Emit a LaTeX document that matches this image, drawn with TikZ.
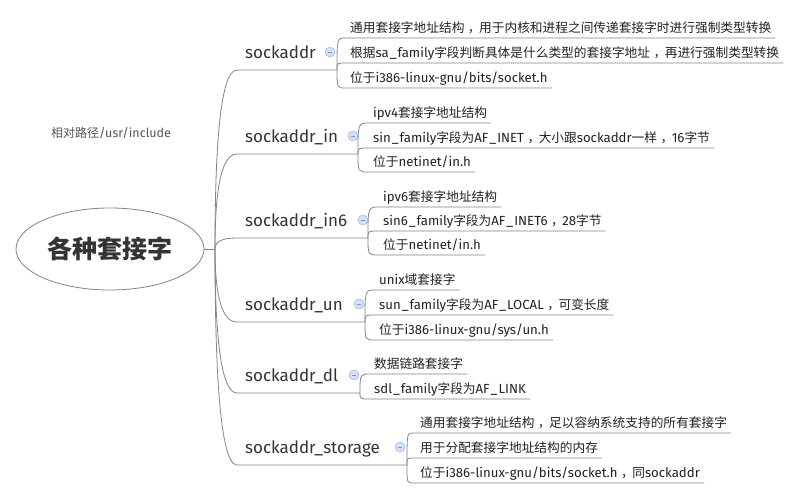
\documentclass[tikz,border=0pt]{standalone}
\usepackage{fontspec}
\setmainfont{Fira Sans}
\newfontfamily\cjk{Noto Sans CJK SC}[Scale=0.962]
\newcommand\zh[1]{{\cjk #1}}
\newcommand\cm{\kern3.5pt{\cjk ，}\kern-1.5pt}
\newcommand\us{\kern1pt\_\kern1pt}
\usetikzlibrary{shapes.geometric,calc}
\definecolor{linec}{HTML}{858585}
\definecolor{txtc}{HTML}{333333}
\definecolor{itemc}{HTML}{222222}
\definecolor{notec}{HTML}{555555}
\definecolor{iconfill}{HTML}{D3E0F7}
\definecolor{icondraw}{HTML}{A8BDE6}
\definecolor{iconbar}{HTML}{7F95C2}
\tikzset{
  conn/.style={draw=linec, line width=0.8pt},
  rootnode/.style={ellipse, draw=linec, line width=0.8pt, minimum width=188pt, minimum height=82pt, inner sep=0pt, text=txtc, font=\fontsize{26}{30}\selectfont\bfseries},
  branch/.style={font=\fontsize{17}{20}\selectfont, text=txtc, inner sep=0pt, anchor=base west},
  item/.style={font=\fontsize{13.2}{15}\selectfont, text=itemc, inner sep=0pt, anchor=base west},
  note/.style={font=\fontsize{12.5}{14}\selectfont, text=notec, inner sep=0pt},
  icon/.style={circle, draw=icondraw, fill=iconfill, line width=0.6pt, minimum size=10pt, inner sep=0pt,
    path picture={\draw[iconbar, line width=0.7pt] ([xshift=-2.3pt]path picture bounding box.center) -- ([xshift=2.3pt]path picture bounding box.center);}}
}
\begin{document}
\begin{tikzpicture}[x=1pt, y=-1pt]
\useasboundingbox[fill=white] (0,0) rectangle (807,499);

% root
\node[rootnode] (root) at (110,249) {\zh{各种套接字}};
\node[note] (note) at (111,133) {\zh{相对路径}/usr/include};
\coordinate (J) at (215,249);
\draw[conn] (root.east) -- (J);

% ---------- sockaddr
\node[branch] (b1) at (245,58) {sockaddr};
\node[icon] (i1) at (330,52) {};
\coordinate (b1s) at (237,70); \coordinate (b1e) at (337,70);
\draw[conn] (J) .. controls (215,159) and (219,70) .. (b1s) -- (b1e);
\node[item] (s11) at (350,32) {\zh{通用套接字地址结构}\cm\zh{用于内核和进程之间传递套接字时进行强制类型转换}};
\node[item] (s12) at (350,57) {\zh{根据}sa\us family\zh{字段判断具体是什么类型的套接字地址}\cm\zh{再进行强制类型转换}};
\node[item] (s13) at (350,82) {\zh{位于}i386-linux-gnu/bits/socket.h};
\draw[conn] (b1e) .. controls (337,38) .. (346,38) -- ($(s11.base east)+(4,6)$);
\draw[conn] (b1e) .. controls (337,63) .. (346,63) -- ($(s12.base east)+(4,6)$);
\draw[conn] (b1e) .. controls (337,88) .. (346,88) -- ($(s13.base east)+(4,6)$);

% ---------- sockaddr_in
\node[branch] (b2) at (245,142) {sockaddr\_in};
\node[icon] (i2) at (353,136) {};
\coordinate (b2s) at (237,154); \coordinate (b2e) at (358,154);
\draw[conn] (J) .. controls (215,201) and (219,154) .. (b2s) -- (b2e);
\node[item] (s21) at (373,117) {ipv4\zh{套接字地址结构}};
\node[item] (s22) at (373,142) {sin\us family\zh{字段为}AF\us INET\cm\zh{大小跟}sockaddr\zh{一样}\cm 16\zh{字节}};
\node[item] (s23) at (373,166) {\zh{位于}netinet/in.h};
\draw[conn] (b2e) .. controls (358,123) .. (369,123) -- ($(s21.base east)+(4,6)$);
\draw[conn] (b2e) .. controls (358,148) .. (369,148) -- ($(s22.base east)+(4,6)$);
\draw[conn] (b2e) .. controls (358,172) .. (369,172) -- ($(s23.base east)+(4,6)$);

% ---------- sockaddr_in6
\node[branch] (b3) at (245,226) {sockaddr\_in6};
\node[icon] (i3) at (363,220) {};
\coordinate (b3s) at (237,238); \coordinate (b3e) at (368,238);
\draw[conn] (J) .. controls (215,243) and (219,238) .. (b3s) -- (b3e);
\node[item] (s31) at (383,201) {ipv6\zh{套接字地址结构}};
\node[item] (s32) at (383,225) {sin6\us family\zh{字段为}AF\us INET6\cm 28\zh{字节}};
\node[item] (s33) at (383,249) {\zh{位于}netinet/in.h};
\draw[conn] (b3e) .. controls (368,207) .. (379,207) -- ($(s31.base east)+(4,6)$);
\draw[conn] (b3e) .. controls (368,231) .. (379,231) -- ($(s32.base east)+(4,6)$);
\draw[conn] (b3e) .. controls (368,255) .. (379,255) -- ($(s33.base east)+(4,6)$);

% ---------- sockaddr_un
\node[branch] (b4) at (245,310) {sockaddr\_un};
\node[icon] (i4) at (359,304) {};
\coordinate (b4s) at (237,322); \coordinate (b4e) at (365,322);
\draw[conn] (J) .. controls (215,285) and (219,322) .. (b4s) -- (b4e);
\node[item] (s41) at (379,284) {unix\zh{域套接字}};
\node[item] (s42) at (379,309) {sun\us family\zh{字段为}AF\us LOCAL\cm\zh{可变长度}};
\node[item] (s43) at (379,334) {\zh{位于}i386-linux-gnu/sys/un.h};
\draw[conn] (b4e) .. controls (365,290) .. (375,290) -- ($(s41.base east)+(4,6)$);
\draw[conn] (b4e) .. controls (365,315) .. (375,315) -- ($(s42.base east)+(4,6)$);
\draw[conn] (b4e) .. controls (365,340) .. (375,340) -- ($(s43.base east)+(4,6)$);

% ---------- sockaddr_dl
\node[branch] (b5) at (245,381) {sockaddr\_dl};
\node[icon] (i5) at (354,375) {};
\coordinate (b5s) at (237,393); \coordinate (b5e) at (360,393);
\draw[conn] (J) .. controls (215,321) and (219,393) .. (b5s) -- (b5e);
\node[item] (s51) at (374,368) {\zh{数据链路套接字}};
\node[item] (s52) at (374,393) {sdl\us family\zh{字段为}AF\us LINK};
\draw[conn] (b5e) .. controls (360,374) .. (370,374) -- ($(s51.base east)+(4,6)$);
\draw[conn] (b5e) .. controls (360,399) .. (370,399) -- ($(s52.base east)+(4,6)$);

% ---------- sockaddr_storage
\node[branch] (b6) at (245,453) {sockaddr\_storage};
\node[icon] (i6) at (400,447) {};
\coordinate (b6s) at (237,465); \coordinate (b6e) at (407,465);
\draw[conn] (J) .. controls (215,357) and (219,465) .. (b6s) -- (b6e);
\node[item] (s61) at (420,427) {\zh{通用套接字地址结构}\cm\zh{足以容纳系统支持的所有套接字}};
\node[item] (s62) at (420,452) {\zh{用于分配套接字地址结构的内存}};
\node[item] (s63) at (420,477) {\zh{位于}i386-linux-gnu/bits/socket.h\cm\zh{同}sockaddr};
\draw[conn] (b6e) .. controls (407,433) .. (413,433) -- ($(s61.base east)+(4,6)$);
\draw[conn] (b6e) .. controls (407,458) .. (413,458) -- ($(s62.base east)+(4,6)$);
\draw[conn] (b6e) .. controls (407,483) .. (413,483) -- ($(s63.base east)+(4,6)$);
\end{tikzpicture}
\end{document}
